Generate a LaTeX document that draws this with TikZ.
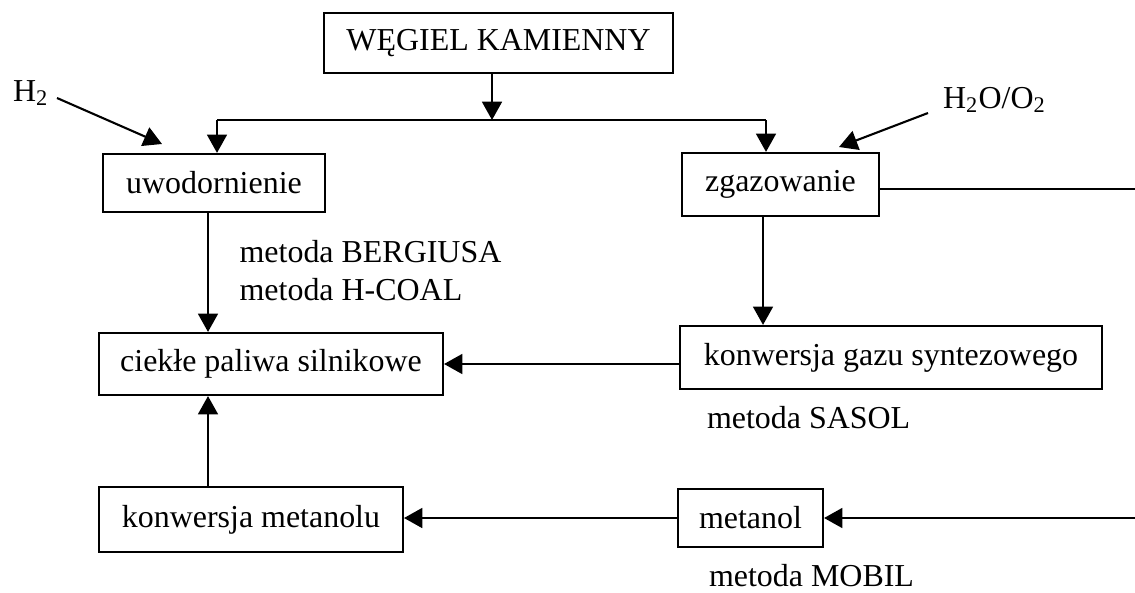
\documentclass[tikz,border=0pt]{standalone}
\usepackage{fontspec}
\setmainfont{Liberation Serif}
\usetikzlibrary{arrows.meta}

\begin{document}
\begin{tikzpicture}[x=0.382pt,y=-0.382pt,line width=0.8pt,
    font=\fontsize{12.2}{14}\selectfont,
    >={Triangle[length=7pt,width=7.6pt]}]

        \useasboundingbox (0,0) rectangle (1135,592);

        \begin{scope}[every node/.style={draw, rectangle, inner sep=0pt, line width=0.8pt}]
          \node[minimum width=133.3pt, minimum height=22.9pt] (wegiel)  at (498.5,43)  {WĘGIEL KAMIENNY};
          \node[minimum width=84.8pt,  minimum height=22.2pt] (uwod)    at (214,183)   {uwodornienie};
          \node[minimum width=75.3pt,  minimum height=24.1pt] (zgaz)    at (780.5,184.5) {zgazowanie};
          \node[minimum width=131.4pt, minimum height=23.7pt] (ciekle)  at (271,364)   {ciekłe paliwa silnikowe};
          \node[minimum width=161.2pt, minimum height=24.1pt] (kgaz)    at (891,357.5) {konwersja gazu syntezowego};
          \node[minimum width=116.1pt, minimum height=24.8pt] (kmet)    at (251,519.5) {konwersja metanolu};
          \node[minimum width=55.4pt,  minimum height=22.2pt] (metanol) at (750.5,518) {metanol};
        \end{scope}

        \begin{scope}[every node/.style={anchor=base west, inner sep=0pt}]
          \node (h2)    at (12,101)    {H\textsubscript{2}};
          \node (h2o)   at (942,108)   {H\textsubscript{2}O/O\textsubscript{2}};
          \node (berg)  at (238.6,262) {metoda BERGIUSA};
          \node (hcoal) at (238.6,300) {metoda H-COAL};
          \node (sasol) at (706,428)   {metoda SASOL};
          \node (mobil) at (708,586)   {metoda MOBIL};
        \end{scope}

        \coordinate (split) at (492,120);
        \coordinate (left)  at (217,120);
        \coordinate (right) at (766,120);
        \coordinate (h2from)  at (57,98);
        \coordinate (h2to)    at (162,144);
        \coordinate (h2ofrom) at (928,113);
        \coordinate (h2oto)   at (839,147);
        \coordinate (zout) at (1135,189);
        \coordinate (min)  at (1135,518);
        \coordinate (col1) at (208,0);
        \coordinate (col2) at (763,0);

        \draw (left) -- (right);
        \draw (zgaz.east |- zout) -- (zout);

        \begin{scope}[every edge/.style={draw, ->}]
          \path (wegiel.south -| split) edge (split);
          \path (left)  edge (left |- uwod.north);
          \path (right) edge (right |- zgaz.north);
          \path (h2from)  edge (h2to);
          \path (h2ofrom) edge (h2oto);
          \path (col1 |- uwod.south) edge (col1 |- ciekle.north);
          \path (col2 |- zgaz.south) edge (col2 |- kgaz.north);
          \path (kgaz.west |- ciekle.east) edge (ciekle.east);
          \path (col1 |- kmet.north) edge (col1 |- ciekle.south);
          \path (metanol.west) edge (metanol.west -| kmet.east);
          \path (min) edge (min -| metanol.east);
        \end{scope}

      \end{tikzpicture}
\end{document}
